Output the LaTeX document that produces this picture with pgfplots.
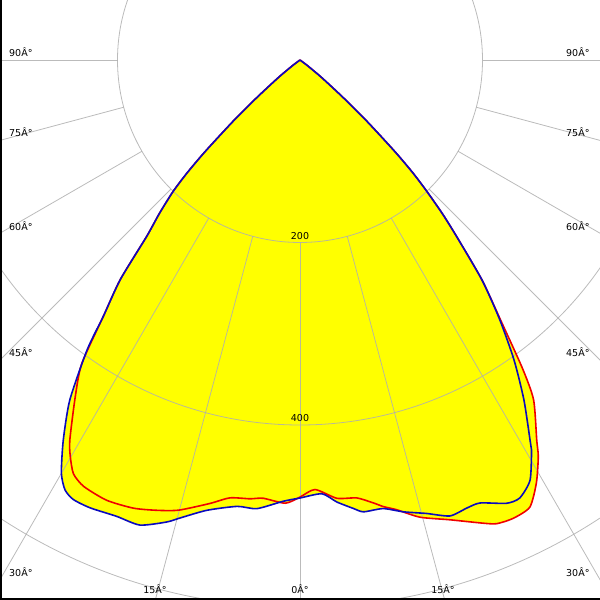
\documentclass[border=0pt]{standalone}
\usepackage{fontspec}
\setmainfont{DejaVu Sans}
\usepackage{pgfplots}
\usepackage{pgfplotstable}
\pgfplotsset{compat=1.18}
\definecolor{curveblue}{RGB}{10,10,190}
\definecolor{curvered}{RGB}{240,0,0}
\definecolor{gridc}{RGB}{175,175,175}
\definecolor{fillyellow}{RGB}{255,255,0}

\pgfplotstableread{
g I
-90 0
-53 10
-51 30
-49 62
-47.5 100
-46 145
-45 175
-44 200
-42.5 228
-41 256
-39.3 311
-37.5 354
-36.3 394
-34.1 450
-31.9 491
-30.0 523
-28.65 537
-27.26 542
-25.1 542
-21.9 539
-19.0 539
-16.1 527
-14.7 519
-11.7 504
-8.0 494
-5.5 494
-2.2 484
0 480
2.9 476
4.75 486
6.8 495
8.0 500
10.5 500
12.9 508
15.6 516
18.2 526
20.4 524
22.1 524
25.0 536
26.65 537
28.7 525
30.7 497
31.18 487
33.38 446
35.5 404
37.57 359
39.6 313
41.57 259
42.8 230
44 200
45 175
46 145
47.5 100
49 62
51 30
53 10
90 0
}\bluedata

\pgfplotstableread{
g I
-90 0
-53 10
-51 30
-49 62
-47.5 100
-46 145
-45 175
-44 200
-42.5 228
-41 256
-39.3 311
-37.5 354
-35.7 410
-33.7 444
-31.2 487
-30.1 502
-28.7 517
-26.9 524
-23.7 527
-20.4 524
-17.7 518
-15.1 511
-11.5 496
-9.1 486
-6.5 484
-4.8 482
-1.9 486
0 479
2.0 471
4.8 482
7.4 484
9.4 492
10.6 498
12.1 504
14.7 518
18.06 530
21.6 546
23.0 552
24.95 554
27.2 551
29.2 531
31.0 507
31.9 491
34.5 452
35.8 417
37.57 362
39.6 313
41.57 259
42.8 230
44 200
45 175
46 145
47.5 100
49 62
51 30
53 10
90 0
}\reddata

\begin{document}
\begin{tikzpicture}
\begin{axis}[
  name=ax,
  width=600pt, height=600pt, scale only axis,
  xmin=-328.77, xmax=328.77, ymin=-591.78, ymax=65.75,
  hide axis,
  clip=true,
]
% yellow fill (union of both planes)
\addplot[fill=fillyellow, draw=none, data cs=polar, smooth, tension=0.4] table[x expr=\thisrow{g}-90, y=I] {\bluedata};
\addplot[fill=fillyellow, draw=none, data cs=polar, smooth, tension=0.4] table[x expr=\thisrow{g}-90, y=I] {\reddata};
% grid
\draw[gridc, opacity=0.85, line width=0.8pt] (axis cs:0,0) circle[radius=200];
\draw[gridc, opacity=0.85, line width=0.8pt] (axis cs:0,0) circle[radius=400];
\draw[gridc, opacity=0.85, line width=0.8pt] (axis cs:0,0) circle[radius=600];
\pgfplotsinvokeforeach{-90,-75,-60,-45,-30,-15,0,15,30,45,60,75,90}{
  \draw[gridc, opacity=0.85, line width=0.8pt]
    (axis cs:{200*cos(#1-90)},{200*sin(#1-90)}) -- (axis cs:{1000*cos(#1-90)},{1000*sin(#1-90)});
}
% curves
\addplot[curvered, line width=1.6pt, data cs=polar, smooth, tension=0.4] table[x expr=\thisrow{g}-90, y=I] {\reddata};
\addplot[curveblue, line width=1.6pt, data cs=polar, smooth, tension=0.4] table[x expr=\thisrow{g}-90, y=I] {\bluedata};
% frame (left and bottom)
\draw[black, line width=4pt] (rel axis cs:0,0) -- (rel axis cs:0,1);
\draw[black, line width=4pt] (rel axis cs:0,0) -- (rel axis cs:1,0);
% labels
\tikzset{lab/.style={font=\fontsize{9.5}{11}\selectfont, inner sep=0pt, text=black}}
\node[lab, anchor=west] at (rel axis cs:{9/600},{1-52/600}) {90Â°};
\node[lab, anchor=west] at (rel axis cs:{9/600},{1-132/600}) {75Â°};
\node[lab, anchor=west] at (rel axis cs:{9/600},{1-226/600}) {60Â°};
\node[lab, anchor=west] at (rel axis cs:{9/600},{1-352/600}) {45Â°};
\node[lab, anchor=west] at (rel axis cs:{9/600},{1-572/600}) {30Â°};
\node[lab] at (rel axis cs:{155/600},{1-589/600}) {15Â°};
\node[lab] at (rel axis cs:{300/600},{1-589/600}) {0Â°};
\node[lab] at (rel axis cs:{443/600},{1-589/600}) {15Â°};
\node[lab, anchor=west] at (rel axis cs:{566/600},{1-52/600}) {90Â°};
\node[lab, anchor=west] at (rel axis cs:{566/600},{1-132/600}) {75Â°};
\node[lab, anchor=west] at (rel axis cs:{566/600},{1-226/600}) {60Â°};
\node[lab, anchor=west] at (rel axis cs:{566/600},{1-352/600}) {45Â°};
\node[lab, anchor=west] at (rel axis cs:{566/600},{1-572/600}) {30Â°};
\node[lab] at (rel axis cs:{300/600},{1-236/600}) {200};
\node[lab] at (rel axis cs:{300/600},{1-418/600}) {400};
\end{axis}
\pgfresetboundingbox
\useasboundingbox (ax.south west) rectangle (ax.north east);
\end{tikzpicture}
\end{document}
